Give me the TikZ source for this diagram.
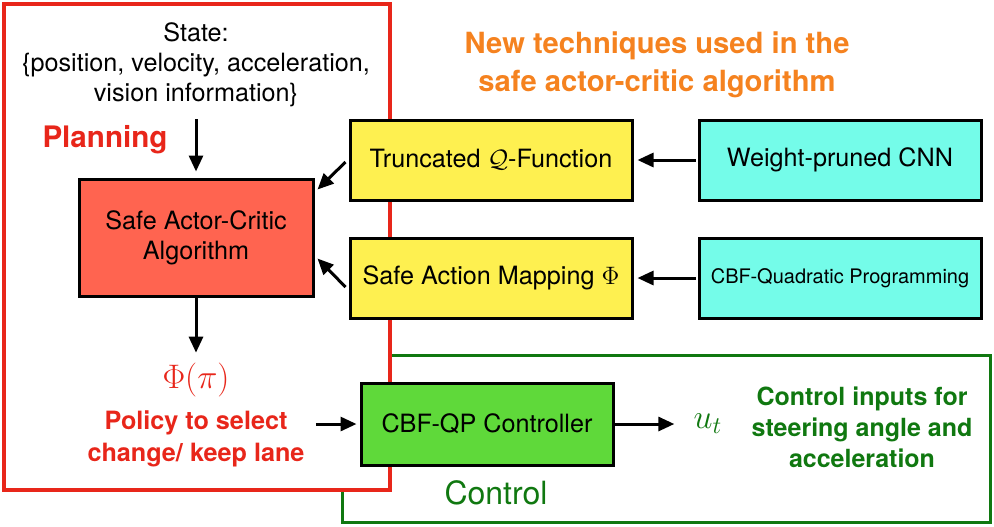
\documentclass[tikz,border=0pt]{standalone}
\usepackage{fix-cm}
\usepackage{fontspec}
\setmainfont{TeX Gyre Heros}
\usetikzlibrary{arrows.meta}
\definecolor{planred}{RGB}{232,38,26}
\definecolor{actorred}{RGB}{255,100,80}
\definecolor{qyellow}{RGB}{254,240,80}
\definecolor{cnncyan}{RGB}{116,252,233}
\definecolor{qpgreen}{RGB}{95,217,58}
\definecolor{ctrlgreen}{RGB}{16,120,16}
\definecolor{titleorange}{RGB}{245,130,31}
\tikzset{
  txt/.style={align=center, inner sep=0pt, font=\fontsize{12.6}{15}\selectfont},
  boldtxt/.style={align=center, inner sep=0pt, font=\fontsize{12.6}{16}\selectfont\bfseries},
  blockbox/.style={draw, line width=1.5pt, align=center, inner sep=0pt,
    minimum width=141pt, minimum height=40pt, font=\fontsize{12.6}{15}\selectfont},
  flow/.style={-{Triangle[length=8pt, width=7pt]}, line width=1.5pt},
}

\begin{document}
\begin{tikzpicture}[x=0.5pt, y=-0.5pt]
\useasboundingbox (0,0) rectangle (994,526);
% frames
\draw [ctrlgreen, line width=1.5pt] (342,355) rectangle (990,522);
\draw [planred, line width=2pt, fill=white] (4,4) rectangle (390,490);
% planning
\node [txt] (state) at (196,65) {State:\\\{position, velocity, acceleration,\\vision information\}};
\node [txt, planred, font=\fontsize{14.8}{18}\selectfont\bfseries] (plan) at (105,140) {Planning};
\node [blockbox, fill=actorred, minimum width=117pt, minimum height=58.5pt] (actor) at (196,237.5) {Safe Actor-Critic\\Algorithm};
\node [planred, inner sep=0pt, font=\fontsize{17}{20}\selectfont] (phi) at (196,380) {$\Phi(\pi)$};
\node [boldtxt, planred] (policy) at (196,439) {Policy to select\\change/ keep lane};
% new techniques
\node [txt, titleorange, font=\fontsize{14.6}{19}\selectfont\bfseries] (title) at (657,65) {New techniques used in the\\safe actor-critic algorithm};
\node [blockbox, fill=qyellow] (trunc) at (491,160) {Truncated $\mathcal{Q}$-Function};
\node [blockbox, fill=qyellow] (safeact) at (491,278) {Safe Action Mapping $\Phi$};
\node [blockbox, fill=cnncyan] (cnn) at (840,160) {Weight-pruned CNN};
\node [blockbox, fill=cnncyan, font=\fontsize{10}{12}\selectfont] (cbfqp) at (840,278) {CBF-Quadratic Programming};
% control
\node [blockbox, fill=qpgreen, minimum width=126pt, minimum height=41pt] (ctrl) at (487,424) {CBF-QP Controller};
\node [ctrlgreen, inner sep=0pt, font=\fontsize{17}{20}\selectfont] (ut) at (708,424) {$u_t$};
\node [boldtxt, ctrlgreen, font=\fontsize{12.5}{15.5}\selectfont\bfseries] (inputs) at (862,427) {Control inputs for\\steering angle and\\acceleration};
\node [ctrlgreen, inner sep=0pt, font=\fontsize{16}{19}\selectfont] (ctrllabel) at (496,493) {Control};
% arrows
\draw [flow, shorten <=6pt, shorten >=3pt] (state) -- (actor);
\draw [flow, shorten >=5pt] (actor) -- (phi);
\draw [flow] ([xshift=-1.5pt,yshift=-1pt]trunc.west) -- ([xshift=1.5pt,yshift=-6pt]actor.north east);
\draw [flow] ([xshift=-1.5pt,yshift=-4.5pt]safeact.west) -- ([xshift=1.5pt,yshift=19.5pt]actor.south east);
\draw [flow, shorten <=1pt, shorten >=2pt] (cnn) -- (trunc);
\draw [flow, shorten <=1pt, shorten >=2pt] (cbfqp) -- (safeact);
\draw [flow, shorten >=1.5pt] ([xshift=5.5pt]policy.east |- ctrl.west) -- (ctrl.west);
\draw [flow, shorten >=9.5pt] (ctrl) -- (ut);
\end{tikzpicture}
\end{document}
